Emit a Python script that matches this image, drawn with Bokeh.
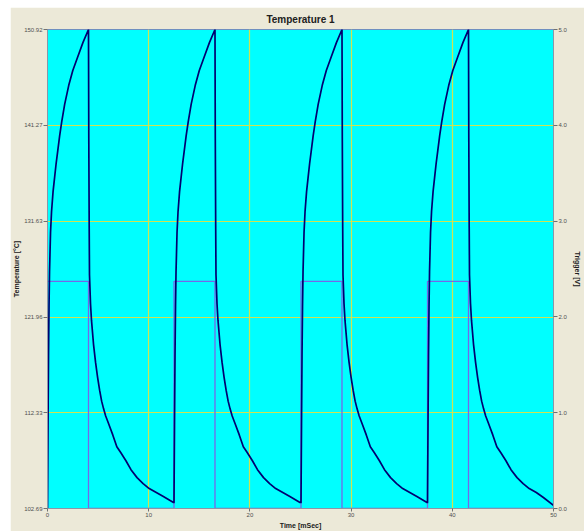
from bokeh.plotting import figure
from bokeh.models import Range1d, LinearAxis, FixedTicker
from bokeh.embed import file_html
from bokeh.resources import INLINE

# ---- data ----
cycle1_time = [0, 0.05, 0.1, 0.15, 0.2, 0.3, 0.4, 0.55, 0.7, 0.85, 1.0, 1.2, 1.4, 1.7, 2.1, 2.5, 3.0, 3.5, 4.05,
               4.08, 4.12, 4.15, 4.25, 4.35, 4.55, 4.75, 4.95, 5.15, 5.35, 5.55, 5.75, 6.05, 6.45, 6.85, 7.25,
               7.75, 8.25, 8.85, 9.45, 10.05, 10.75, 11.45, 12.45]
cycle2_time = [12.5, 12.55, 12.6, 12.65, 12.7, 12.8, 12.9, 13.05, 13.2, 13.35, 13.5, 13.7, 13.9, 14.2, 14.6, 15.0,
               15.5, 16.0, 16.55,
               16.58, 16.62, 16.65, 16.75, 16.85, 17.05, 17.25, 17.45, 17.65, 17.85, 18.05, 18.25, 18.55, 18.95,
               19.35, 19.75, 20.25, 20.75, 21.35, 21.95, 22.55, 23.25, 23.95, 24.95]
cycle3_time = [25.05, 25.1, 25.15, 25.2, 25.25, 25.35, 25.45, 25.6, 25.75, 25.9, 26.05, 26.25, 26.45, 26.75, 27.15,
               27.55, 28.05, 28.55, 29.1,
               29.13, 29.17, 29.2, 29.3, 29.4, 29.6, 29.8, 30.0, 30.2, 30.4, 30.6, 30.8, 31.1, 31.5, 31.9, 32.3,
               32.8, 33.3, 33.9, 34.5, 35.1, 35.8, 36.5, 37.5]
cycle4_time = [37.55, 37.6, 37.65, 37.7, 37.75, 37.85, 37.95, 38.1, 38.25, 38.4, 38.55, 38.75, 38.95, 39.25, 39.65,
               40.05, 40.55, 41.05, 41.6,
               41.63, 41.67, 41.7, 41.8, 41.9, 42.1, 42.3, 42.5, 42.7, 42.9, 43.1, 43.3, 43.6, 44.0, 44.4, 44.8,
               45.3, 45.8, 46.4, 47.0, 47.6, 48.3, 49.0, 50.0]

cycle1_temp = [102.69, 111.0, 118.0, 123.0, 126.5, 130.5, 132.6, 134.6, 136.0, 137.4, 138.6, 140.2, 141.6, 143.4,
               145.3, 146.8, 148.2, 149.6, 150.92,
               140.0, 131.0, 126.2, 123.3, 121.6, 119.2, 117.4, 115.9, 114.6, 113.5, 112.7, 112.0, 111.2, 110.1,
               108.9, 108.3, 107.5, 106.6, 105.8, 105.2, 104.7, 104.3, 103.9, 103.3]
cycle2_temp = [103.3, 111.0, 118.0, 123.0, 126.5, 130.5, 132.6, 134.6, 136.0, 137.4, 138.6, 140.2, 141.6, 143.4,
               145.3, 146.8, 148.2, 149.6, 150.92,
               140.0, 131.0, 126.2, 123.3, 121.6, 119.2, 117.4, 115.9, 114.6, 113.5, 112.7, 112.0, 111.2, 110.1,
               108.9, 108.3, 107.5, 106.6, 105.8, 105.2, 104.7, 104.3, 103.9, 103.3]
cycle3_temp = [103.3, 111.0, 118.0, 123.0, 126.5, 130.5, 132.6, 134.6, 136.0, 137.4, 138.6, 140.2, 141.6, 143.4,
               145.3, 146.8, 148.2, 149.6, 150.92,
               140.0, 131.0, 126.2, 123.3, 121.6, 119.2, 117.4, 115.9, 114.6, 113.5, 112.7, 112.0, 111.2, 110.1,
               108.9, 108.3, 107.5, 106.6, 105.8, 105.2, 104.7, 104.3, 103.9, 103.3]
cycle4_temp = [103.3, 111.0, 118.0, 123.0, 126.5, 130.5, 132.6, 134.6, 136.0, 137.4, 138.6, 140.2, 141.6, 143.4,
               145.3, 146.8, 148.2, 149.6, 150.92,
               140.0, 131.0, 126.2, 123.3, 121.6, 119.2, 117.4, 115.9, 114.6, 113.5, 112.7, 112.0, 111.2, 110.1,
               108.9, 108.3, 107.5, 106.6, 105.8, 105.2, 104.7, 104.3, 103.8, 103.0]

trigger_time = [0, 0, 4.05, 4.05, 12.5, 12.5, 16.55, 16.55, 25.05, 25.05, 29.1, 29.1, 37.55, 37.55, 41.6, 41.6, 50]
trigger_volt = [0, 2.37, 2.37, 0, 0, 2.37, 2.37, 0, 0, 2.37, 2.37, 0, 0, 2.37, 2.37, 0, 0]

x_ticks = [0, 10, 20, 30, 40, 50]
temp_ticks = [102.69, 112.33, 121.96, 131.63, 141.27, 150.92]
temp_tick_labels = ["102.69", "112.33", "121.96", "131.63", "141.27", "150.92"]
volt_ticks = [0, 1, 2, 3, 4, 5]
volt_tick_labels = ["0.0", "1.0", "2.0", "3.0", "4.0", "5.0"]
chart_title = "Temperature 1"

time_all = cycle1_time + cycle2_time + cycle3_time + cycle4_time
temp_all = cycle1_temp + cycle2_temp + cycle3_temp + cycle4_temp

# ---- figure ----
BG = "#ECE9D8"
FONT = "Liberation Sans"

p = figure(width=574, height=524, output_backend="svg", toolbar_location=None,
           x_range=Range1d(x_ticks[0], x_ticks[-1]), y_range=Range1d(temp_ticks[0], temp_ticks[-1]),
           min_border_left=37, min_border_right=31, min_border_top=22, min_border_bottom=23,
           background_fill_color="#00FFFF", border_fill_color=BG,
           title=chart_title)
p.margin = (7, 0, 0, 10)
p.extra_y_ranges = {"volt": Range1d(volt_ticks[0], volt_ticks[-1])}

p.title.align = "center"
p.title.text_font = FONT
p.title.text_font_size = "10px"
p.title.text_font_style = "bold"
p.title.text_color = "#202020"
p.title.standoff = 9
p.title.offset = 10

p.outline_line_color = "#6f8fc0"

# grid
for g in (p.xgrid, p.ygrid):
    g.grid_line_color = "#d2e250"
    g.grid_line_width = 1.2
p.xgrid.ticker = FixedTicker(ticks=x_ticks)
p.ygrid.ticker = FixedTicker(ticks=temp_ticks)

def style_axis(ax):
    ax.axis_line_color = "#8a96a8"
    ax.major_tick_line_color = "#707070"
    ax.major_tick_out = 4
    ax.major_tick_in = 0
    ax.minor_tick_line_color = None
    ax.major_label_text_font = FONT
    ax.major_label_text_font_size = "6px"
    ax.major_label_text_color = "#505050"
    ax.major_label_standoff = 1
    ax.axis_label_text_font = FONT
    ax.axis_label_text_font_size = "7px"
    ax.axis_label_text_font_style = "bold"
    ax.axis_label_text_color = "#202020"
    ax.axis_label_standoff = 1

xa = p.xaxis[0]
xa.ticker = FixedTicker(ticks=x_ticks)
xa.axis_label = "Time [mSec]"
style_axis(xa)
xa.major_tick_out = 3
xa.axis_label_standoff = 2

ya = p.yaxis[0]
ya.ticker = FixedTicker(ticks=temp_ticks)
ya.major_label_overrides = {t: s for t, s in zip(temp_ticks, temp_tick_labels)}
ya.axis_label = "Temperature [°C]"
style_axis(ya)

ra = LinearAxis(y_range_name="volt", axis_label="Trigger [V]",
                ticker=FixedTicker(ticks=volt_ticks))
ra.major_label_overrides = {t: s for t, s in zip(volt_ticks, volt_tick_labels)}
style_axis(ra)
ra.axis_label_standoff = 4
p.add_layout(ra, "right")

# trigger (square wave)
p.line(trigger_time, trigger_volt, y_range_name="volt", line_color="#7468e8", line_width=1.3)

# temperature
p.line(time_all, temp_all, line_color="#000070", line_width=1.7, line_join="round")

open("out.html", "w").write(file_html(p, INLINE))
